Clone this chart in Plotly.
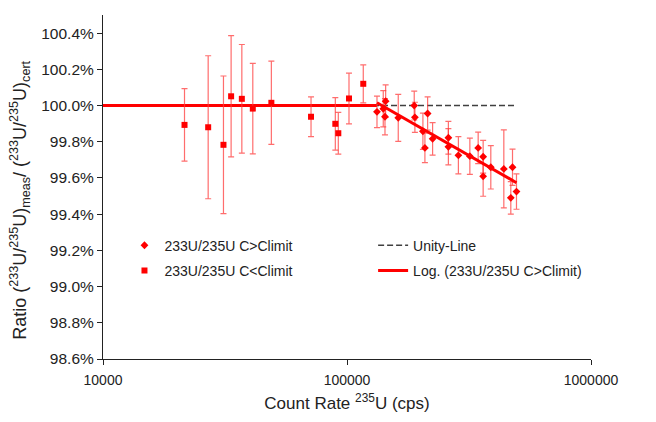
import numpy as np
import plotly.graph_objects as go

# C<Climit points (squares)
low_x = [21580, 26980, 31170, 33500, 37070, 41110, 48980, 71220, 89560, 92130, 101900, 116600]
low_y = [99.893, 99.880, 99.783, 100.051, 100.037, 99.983, 100.015, 99.938, 99.899, 99.847, 100.039, 100.120]
low_err = [0.200, 0.395, 0.380, 0.335, 0.300, 0.250, 0.230, 0.110, 0.145, 0.115, 0.140, 0.105]

# C>Climit points (diamonds)
high_x = [132700, 140800, 144000, 143100, 162200, 188600, 189800, 204700, 208600, 214000,
          224300, 260300, 260300, 286100, 318800, 344800, 361400, 361400, 388500, 439300,
          476800, 469200, 495000]
high_y = [99.965, 99.982, 100.024, 99.938, 99.932, 100.000, 99.935, 99.858, 99.766, 99.956,
          99.816, 99.822, 99.772, 99.725, 99.720, 99.766, 99.717, 99.609, 99.659, 99.650,
          99.659, 99.490, 99.525]
high_err = [0.087, 0.100, 0.090, 0.100, 0.130, 0.080, 0.083, 0.100, 0.081, 0.092,
            0.090, 0.090, 0.100, 0.103, 0.100, 0.087, 0.090, 0.110, 0.120, 0.215,
            0.100, 0.090, 0.098]

unity_level = 100.0
x_ticks = [10000, 100000, 1000000]
y_ticks = [98.6, 98.8, 99.0, 99.2, 99.4, 99.6, 99.8, 100.0, 100.2, 100.4]

RED = "#FF0000"
ERR = "rgba(255,60,60,0.75)"

# logarithmic trend fit of C>Climit
coef = np.polyfit(np.log10(high_x), high_y, 1)
tx = np.array([min(high_x), max(high_x)])
ty = np.polyval(coef, np.log10(tx))

fig = go.Figure()

fig.add_trace(go.Scatter(
    x=[x_ticks[0], max(high_x)], y=[unity_level, unity_level], mode="lines",
    line=dict(color="#404040", width=1.5, dash="6px,3px"),
    name="Unity-Line", legend="legend2", legendgroup="u"))

fig.add_trace(go.Scatter(
    x=[x_ticks[0], min(high_x)], y=[unity_level, unity_level], mode="lines",
    line=dict(color=RED, width=3), showlegend=False, hoverinfo="skip"))

fig.add_trace(go.Scatter(
    x=high_x, y=high_y, mode="markers", name="233U/235U C>Climit",
    marker=dict(symbol="diamond", size=6, color=RED),
    error_y=dict(type="data", array=high_err, color=ERR, thickness=1.2, width=3),
    legend="legend", legendgroup="a"))

fig.add_trace(go.Scatter(
    x=low_x, y=low_y, mode="markers", name="233U/235U C<Climit",
    marker=dict(symbol="square", size=6, color=RED),
    error_y=dict(type="data", array=low_err, color=ERR, thickness=1.2, width=3),
    legend="legend", legendgroup="b"))

fig.add_trace(go.Scatter(
    x=tx, y=ty, mode="lines", name="Log. (233U/235U C>Climit)",
    line=dict(color=RED, width=3),
    legend="legend2", legendgroup="t"))

font = "Liberation Sans, Arial, sans-serif"
fig.update_layout(
    width=656, height=422,
    margin=dict(l=103, r=65, t=15, b=61),
    paper_bgcolor="white", plot_bgcolor="white",
    font=dict(family=font, color="#222222", size=14),
    showlegend=True,
    legend=dict(x=0.044, y=0.376, xanchor="left", yanchor="top",
                bgcolor="rgba(0,0,0,0)", font=dict(size=14), tracegroupgap=4,
                traceorder="grouped"),
    legend2=dict(x=0.5535, y=0.376, xanchor="left", yanchor="top",
                 bgcolor="rgba(0,0,0,0)", font=dict(size=14), tracegroupgap=4,
                 traceorder="grouped"),
    xaxis=dict(type="log", range=[4, 6], tickvals=x_ticks,
               ticktext=[str(v) for v in x_ticks],
               showgrid=False, zeroline=False, showline=True, linecolor="#222222",
               linewidth=1.2, ticks="outside", ticklen=5, tickcolor="#222222",
               tickfont=dict(size=14), ticklabelstandoff=3,
               title=dict(text="Count Rate <sup>235</sup>U (cps)", font=dict(size=17), standoff=10)),
    yaxis=dict(range=[98.6, 100.5], tickvals=y_ticks,
               ticktext=["%.1f%%" % v for v in y_ticks],
               showgrid=False, zeroline=False, showline=True, linecolor="#222222",
               linewidth=1.2, ticks="outside", ticklen=5, tickcolor="#222222",
               tickfont=dict(size=15.5)),
    annotations=[dict(
        text="Ratio (<sup>233</sup>U/<sup>235</sup>U)<sub>meas</sub>/ (<sup>233</sup>U/<sup>235</sup>U)<sub>cert</sub>",
        textangle=-90, xref="paper", yref="paper", x=0, y=0.46,
        xanchor="center", yanchor="middle", xshift=-83, showarrow=False,
        font=dict(size=18, color="#222222"))],
)

fig.write_html("out.html", post_script="document.body.style.margin='0px';",
               config={"displayModeBar": False})
